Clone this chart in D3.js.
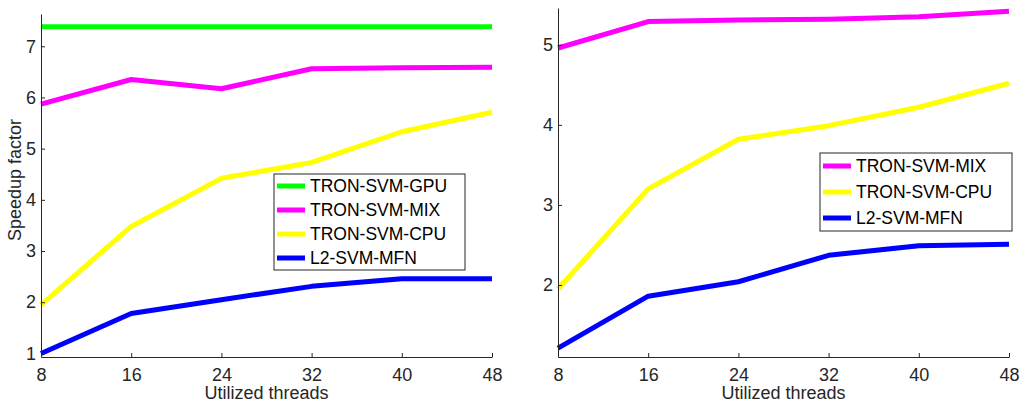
<!DOCTYPE html>
<html><head><meta charset="utf-8">
<script src="https://cdn.jsdelivr.net/npm/d3@7"></script>
<style>body{margin:0;background:#fff}svg{display:block}</style>
</head><body>
<svg id="c" width="1021" height="402"></svg>
<script>
const threads = [8, 16, 24, 32, 40, 48];
const xTicks = [8, 16, 24, 32, 40, 48];
const leftYTicks = [1, 2, 3, 4, 5, 6, 7];
const rightYTicks = [2, 3, 4, 5];

const leftGPU = [7.38, 7.38, 7.38, 7.38, 7.38, 7.38];
const leftMIX = [5.87, 6.35, 6.17, 6.56, 6.58, 6.59];
const leftCPU = [1.95, 3.48, 4.42, 4.73, 5.33, 5.71];
const leftMFN = [1.0, 1.78, 2.05, 2.31, 2.46, 2.46];

const rightMIX = [4.96, 5.29, 5.31, 5.32, 5.35, 5.42];
const rightCPU = [1.95, 3.2, 3.82, 3.99, 4.22, 4.52];
const rightMFN = [1.21, 1.86, 2.04, 2.37, 2.49, 2.51];

const names = {gpu: "TRON-SVM-GPU", mix: "TRON-SVM-MIX", cpu: "TRON-SVM-CPU", mfn: "L2-SVM-MFN"};
const colors = {gpu: "#00ff00", mix: "#ff00ff", cpu: "#ffff00", mfn: "#0000ff"};

const svg = d3.select("#c");
const font = "'Liberation Sans', Arial, sans-serif";
const axisColor = "#262626";

function panel(cfg) {
  const x = d3.scaleLinear().domain([8, 48]).range([cfg.x0, cfg.x1]);
  const y = d3.scaleLinear().domain(cfg.yDomain).range([357, cfg.yTop]);
  const g = svg.append("g");

  const line = d3.line().x((d, i) => x(threads[i])).y(d => y(d));
  cfg.series.forEach(s => {
    g.append("path").datum(s.values).attr("d", line)
      .attr("fill", "none").attr("stroke", colors[s.key]).attr("stroke-width", 5)
      .attr("stroke-linejoin", "round");
  });

  const xa = g.append("g").attr("transform", `translate(0,357)`)
    .call(d3.axisBottom(x).tickValues(xTicks).tickFormat(d3.format("d")).tickSize(-4).tickPadding(11).tickSizeOuter(0));
  const ya = g.append("g").attr("transform", `translate(${cfg.x0},0)`)
    .call(d3.axisLeft(y).tickValues(cfg.yTicks).tickFormat(d3.format("d")).tickSize(-4).tickPadding(5).tickSizeOuter(0));
  [xa, ya].forEach(a => {
    a.select(".domain").attr("stroke", axisColor).attr("stroke-width", 1);
    a.selectAll(".tick line").attr("stroke", axisColor);
    a.selectAll("text").attr("fill", axisColor).style("font-family", font).style("font-size", "18px");
  });

  g.append("text").attr("x", (cfg.x0 + cfg.x1) / 2).attr("y", 399)
    .attr("text-anchor", "middle").attr("fill", axisColor)
    .style("font-family", font).style("font-size", "18px").text("Utilized threads");

  if (cfg.yLabel) {
    g.append("text").attr("transform", `translate(21,180) rotate(-90)`)
      .attr("text-anchor", "middle").attr("fill", axisColor)
      .style("font-family", font).style("font-size", "18px").text(cfg.yLabel);
  }

  const lg = cfg.legend;
  const leg = g.append("g");
  leg.append("rect").attr("x", lg.x).attr("y", lg.y).attr("width", lg.w).attr("height", lg.h)
    .attr("fill", "#fff").attr("stroke", "#262626").attr("stroke-width", 1);
  cfg.series.forEach((s, i) => {
    const cy = lg.y + lg.first + i * lg.step;
    leg.append("line").attr("x1", lg.x + 3).attr("x2", lg.x + 31).attr("y1", cy).attr("y2", cy)
      .attr("stroke", colors[s.key]).attr("stroke-width", 5);
    leg.append("text").attr("x", lg.x + 36).attr("y", cy).attr("dy", "0.35em")
      .attr("fill", "#000").style("font-family", font).style("font-size", "17.5px").text(names[s.key]);
  });
}

panel({
  x0: 41, x1: 492, yTop: 14, yDomain: [0.93, 7.63], yTicks: leftYTicks, yLabel: "Speedup factor",
  series: [{key: "gpu", values: leftGPU}, {key: "mix", values: leftMIX}, {key: "cpu", values: leftCPU}, {key: "mfn", values: leftMFN}],
  legend: {x: 274, y: 174, w: 191, h: 96, first: 12, step: 24}
});
panel({
  x0: 558, x1: 1009, yTop: 8, yDomain: [1.1, 5.46], yTicks: rightYTicks,
  series: [{key: "mix", values: rightMIX}, {key: "cpu", values: rightCPU}, {key: "mfn", values: rightMFN}],
  legend: {x: 820, y: 153, w: 192, h: 78, first: 13, step: 26}
});
</script>
</body></html>
